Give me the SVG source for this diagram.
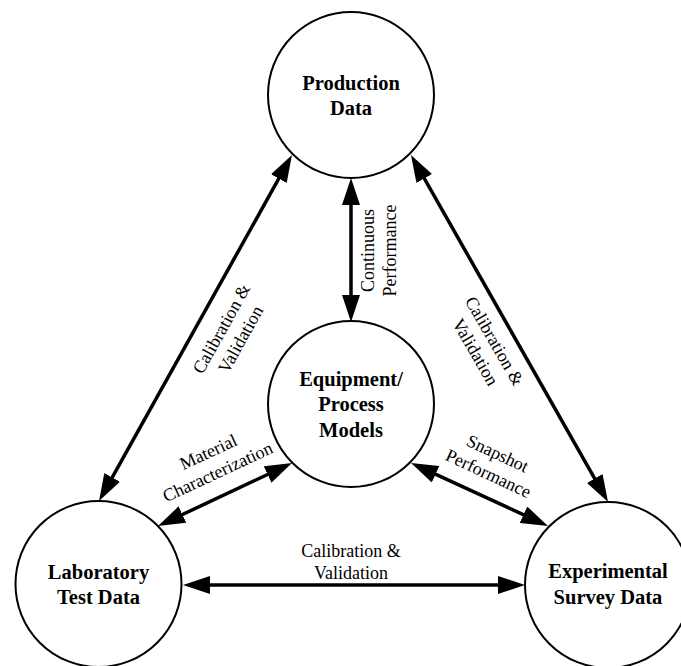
<svg xmlns="http://www.w3.org/2000/svg" width="681" height="666" viewBox="0 0 681 666">
<style>
.node circle{fill:#fff;stroke:#000;stroke-width:2}
.node text{font-family:"Liberation Serif","Times New Roman",serif;font-weight:bold;font-size:20.5px;text-anchor:middle;fill:#000}
.conn line{stroke:#000;stroke-width:3.5;fill:none;marker-start:url(#ah);marker-end:url(#ah)}
.lbl text{font-family:"Liberation Serif","Times New Roman",serif;font-size:18px;text-anchor:middle;fill:#000}
</style>
<defs>
<marker id="ah" markerUnits="userSpaceOnUse" markerWidth="27" markerHeight="18" viewBox="0 0 27 18" refX="17" refY="9" orient="auto-start-reverse">
<path d="M0,0 L27,9 L0,18 z" fill="#000"/>
</marker>
</defs>
<rect width="681" height="666" fill="#fff"/>
<g id="connectors" class="conn">
<line x1="287.1" y1="163.7" x2="103.9" y2="492.3"/>
<line x1="415.9" y1="163.7" x2="603.1" y2="493.3"/>
<line x1="351" y1="188" x2="351" y2="312"/>
<line x1="193" y1="585" x2="515" y2="585"/>
<line x1="282.95" y1="467.25" x2="167.05" y2="521.75"/>
<line x1="420.1" y1="467.2" x2="538.9" y2="521.8"/>
</g>
<g id="labels" class="lbl">
<g transform="translate(231,334) rotate(-61)"><text x="0" y="-5">Calibration &amp;</text><text x="0" y="17">Validation</text></g>
<g transform="translate(485,346.5) rotate(60)"><text x="0" y="-5">Calibration &amp;</text><text x="0" y="17">Validation</text></g>
<g transform="translate(379,250.5) rotate(-90)"><text x="0" y="-5">Continuous</text><text x="0" y="17">Performance</text></g>
<g transform="translate(213,462) rotate(-25)"><text x="0" y="-5">Material</text><text x="0" y="17">Characterization</text></g>
<g transform="translate(493,463.5) rotate(25)"><text x="0" y="-5">Snapshot</text><text x="0" y="17">Performance</text></g>
<g><text x="351" y="557">Calibration &amp;</text><text x="351" y="579">Validation</text></g>
</g>
<g id="production" class="node"><circle cx="351" cy="95" r="83"/><text x="351" y="90">Production</text><text x="351" y="115">Data</text></g>
<g id="equipment" class="node"><circle cx="351" cy="404" r="83"/><text x="351" y="386">Equipment/</text><text x="351" y="411">Process</text><text x="351" y="437">Models</text></g>
<g id="laboratory" class="node"><circle cx="98.5" cy="584" r="83"/><text x="98.5" y="579">Laboratory</text><text x="98.5" y="604">Test Data</text></g>
<g id="experimental" class="node"><circle cx="608" cy="585" r="83"/><text x="608" y="578">Experimental</text><text x="608" y="604">Survey Data</text></g>
</svg>
